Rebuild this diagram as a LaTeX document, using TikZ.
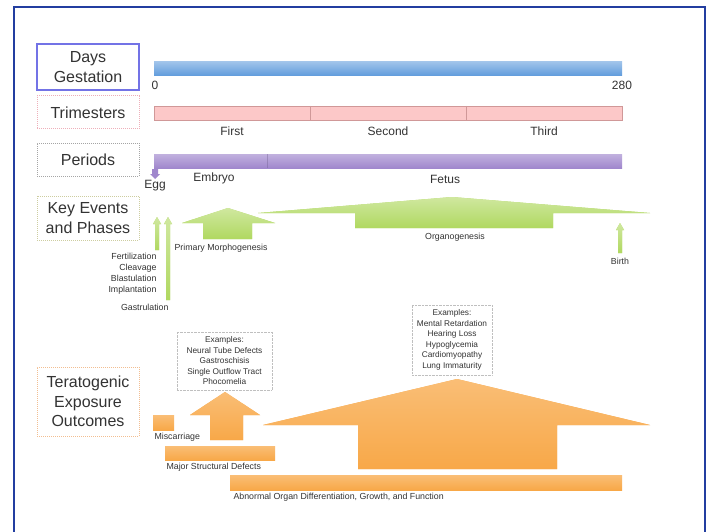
\documentclass[tikz,border=0pt]{standalone}
\usepackage{fontspec}
\setmainfont{Liberation Sans}
\definecolor{framec}{RGB}{35,62,160}
\definecolor{daysc}{RGB}{115,115,230}
\definecolor{trimc}{RGB}{238,175,185}
\definecolor{perc}{RGB}{165,165,165}
\definecolor{keyc}{RGB}{205,205,160}
\definecolor{terac}{RGB}{242,190,145}
\definecolor{bluebar}{RGB}{95,155,220}
\definecolor{pinkbar}{RGB}{252,200,200}
\definecolor{purplebar}{RGB}{160,135,205}
\definecolor{greenc}{RGB}{176,216,96}
\definecolor{orangec}{RGB}{248,168,72}
\begin{document}
\begin{tikzpicture}[x=1pt,y=-1pt,
  lbl/.style={draw, line width=1pt, font=\fontsize{16}{19.5}\selectfont, align=center,
    minimum width=102pt, inner sep=0pt, text=black!80},
  small/.style={font=\fontsize{12}{13}\selectfont, text=black!80},
  tiny/.style={font=\fontsize{8.8}{11}\selectfont, text=black!80},
  exbox/.style={draw=black!25, densely dotted, font=\fontsize{8.3}{10.5}\selectfont,
    align=center, inner sep=0pt, text=black!80},
  grn/.style={fill=greenc, top color=greenc!60!white, bottom color=greenc},
  org/.style={fill=orangec, top color=orangec!75!white, bottom color=orangec}]
  \useasboundingbox (0,0) rectangle (709,532);
  \fill[white] (0,0) rectangle (709,532);
  \draw[framec, line width=2.5pt] (14,7) rectangle (705,540);

  % row labels
  \node[lbl, draw=daysc, line width=1.3pt, minimum height=46pt] (days) at (88,67) {Days\\Gestation};
  \node[lbl, draw=trimc, densely dotted, minimum height=33pt] (trim) at (88,112.5) {Trimesters};
  \node[lbl, draw=perc, densely dotted, minimum height=33pt] (per) at (88,159.5) {Periods};
  \node[lbl, draw=keyc, densely dotted, minimum height=44pt] (key) at (88,218) {Key Events\\and Phases};
  \node[lbl, draw=terac, densely dotted, minimum height=69pt] (tera) at (88,401.5) {Teratogenic\\Exposure\\Outcomes};

  % bars
  \shade[top color=bluebar!60!white, bottom color=bluebar] (154,62) rectangle (622,76);
  \draw[pinkbar!60!red!70!black!60!white, fill=pinkbar] (154,106) rectangle (622,120);
  \foreach \x in {310,466} { \draw[pinkbar!60!red!70!black!60!white] (\x,106) -- (\x,120); }
  \shade[top color=purplebar!65!white, bottom color=purplebar] (154,154) rectangle (622,168);
  \draw[purplebar!70!black, opacity=.4] (267,154) -- (267,168);

  \node[small] (d0) at (155,85) {0};
  \node[small] (d280) at (622,85) {280};
  \node[small] (first) at (232,131) {First};
  \node[small] (second) at (388,131) {Second};
  \node[small] (third) at (544,131) {Third};
  \node[small] (embryo) at (214,178) {Embryo};
  \node[small] (fetus) at (445,179) {Fetus};
  \node[small] (egg) at (155,186) {Egg};
  \fill[purplebar] (152,169) rectangle (158,174) (150,174) -- (160,174) -- (155,179) -- cycle;

  % key events
  \fill[grn] (258,213) -- (452,197) -- (650,213) -- (553,213) -- (553,228)
    -- (355,228) -- (355,213) -- cycle;
  \fill[grn] (182,223) -- (228,208) -- (275,223) -- (252,223) -- (252,239)
    -- (203,239) -- (203,223) -- cycle;
  \foreach \x/\t/\b in {157/217/250, 168/217/300, 620/223/253} {
    \fill[grn] (\x-4,\t+7) -- (\x,\t) -- (\x+4,\t+7) -- (\x+2,\t+7) -- (\x+2,\b)
      -- (\x-2,\b) -- (\x-2,\t+7) -- cycle;
  }
  \node[tiny, anchor=north east, align=right] (early) at (160,249.5)
    {Fertilization\\Cleavage\\Blastulation\\Implantation};
  \node[tiny, anchor=east] (gastr) at (172,307) {Gastrulation};
  \node[tiny, anchor=west] (primo) at (171,248) {Primary Morphogenesis};
  \node[tiny] (organo) at (455,237) {Organogenesis};
  \node[tiny] (birth) at (620,261) {Birth};

  % teratogenic outcomes
  \node[exbox, minimum width=95pt, minimum height=58pt] (ex1) at (224.5,361)
    {Examples:\\Neural Tube Defects\\Gastroschisis\\Single Outflow Tract\\Phocomelia};
  \node[exbox, minimum width=80pt, minimum height=70pt] (ex2) at (452,340)
    {Examples:\\Mental Retardation\\Hearing Loss\\Hypoglycemia\\Cardiomyopathy\\Lung Immaturity};
  \fill[org] (153,415) rectangle (174,430);
  \fill[org] (190,415) -- (225,392) -- (260,415) -- (243,415) -- (243,440)
    -- (210,440) -- (210,415) -- cycle;
  \fill[org] (263,425) -- (457,379) -- (650,425) -- (557,425) -- (557,469)
    -- (358,469) -- (358,425) -- cycle;
  \fill[org] (165,446) rectangle (275,460);
  \fill[org] (230,475) rectangle (622,490);
  \node[tiny, anchor=west] (misc) at (151,437) {Miscarriage};
  \node[tiny, anchor=west] (major) at (163,467) {Major Structural Defects};
  \node[tiny, anchor=west] (abn) at (230,497) {Abnormal Organ Differentiation, Growth, and Function};
\end{tikzpicture}
\end{document}
